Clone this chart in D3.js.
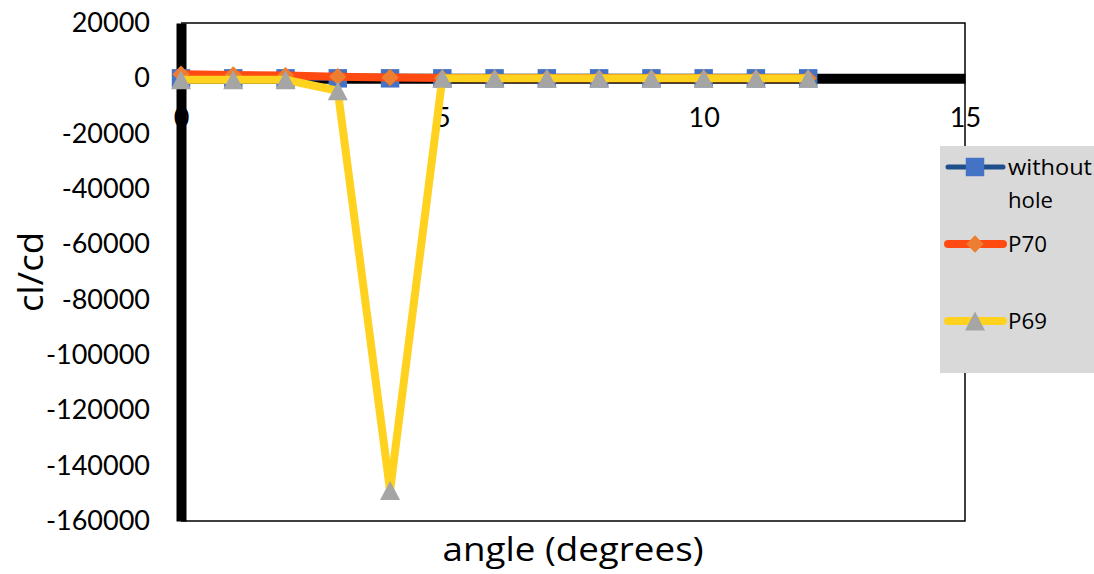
<!DOCTYPE html>
<html>
<head>
<meta charset="utf-8">
<script src="https://cdn.jsdelivr.net/npm/d3@7"></script>
<style>
  body { margin: 0; background: #fff; }
  svg { display: block; }
</style>
</head>
<body>
<div id="chart"></div>
<script>
// angles (degrees)
const angles = [0, 1, 2, 3, 4, 5, 6, 7, 8, 9, 10, 11, 12];
const withoutHole = [0, 0, 0, 0, 0, 0, 0, 0, 0, 0, 0, 0, 0];
const p70 = [1500, 1200, 1000, 600, 300, 100, 0, 0, 0, 0, 0, 0, 0];
const p69 = [-500, -500, -500, -4500, -149000, 0, 0, 0, 0, 0, 0, 0, 0];
const xTicks = [0, 5, 10, 15];
const yTicks = [20000, 0, -20000, -40000, -60000, -80000, -100000, -120000, -140000, -160000];
const seriesNames = ["without hole", "P70", "P69"];

const width = 1094, height = 574;
const margin = { top: 23, right: 129, bottom: 53, left: 181 };

const svg = d3.select("#chart").append("svg")
    .attr("width", width)
    .attr("height", height);

const x = d3.scaleLinear().domain([0, 15]).range([margin.left, width - margin.right]);
const y = d3.scaleLinear().domain([-160000, 20000]).range([height - margin.bottom, margin.top]);

const tickFont = "Lato, 'Open Sans', sans-serif";
const titleFont = "'Open Sans', 'Noto Sans', sans-serif";

// frame (thin top / right / bottom)
svg.append("path")
    .attr("d", `M${x(0)},${y(20000)} H${x(15)} V${y(-160000)} H${x(0)}`)
    .attr("fill", "none")
    .attr("stroke", "#000")
    .attr("stroke-width", 1.5);

// y axis (thick)
const yAxis = svg.append("g")
    .attr("transform", `translate(${x(0)},0)`)
    .call(d3.axisLeft(y).tickValues(yTicks).tickSize(0).tickPadding(31).tickFormat(d => String(d)));
yAxis.select(".domain").attr("stroke", "#000").attr("stroke-width", 10);
yAxis.selectAll("text")
    .attr("font-family", tickFont)
    .attr("font-size", 27)
    .attr("fill", "#000");

// x axis at y = 0 (thick)
const xAxis = svg.append("g")
    .attr("transform", `translate(0,${y(0)})`)
    .call(d3.axisBottom(x).tickValues(xTicks).tickSize(0).tickPadding(30));
xAxis.select(".domain").attr("stroke", "#000").attr("stroke-width", 10);
xAxis.selectAll("text")
    .attr("font-family", tickFont)
    .attr("font-size", 27)
    .attr("fill", "#000");

// axis titles
svg.append("text")
    .attr("x", (x(0) + x(15)) / 2)
    .attr("y", 561)
    .attr("text-anchor", "middle")
    .attr("font-family", titleFont)
    .attr("font-size", 32)
    .attr("textLength", 261)
    .attr("lengthAdjust", "spacingAndGlyphs")
    .text("angle (degrees)");

svg.append("text")
    .attr("transform", `translate(43,${(y(20000) + y(-160000)) / 2}) rotate(-90)`)
    .attr("text-anchor", "middle")
    .attr("font-family", titleFont)
    .attr("font-size", 34)
    .attr("textLength", 80)
    .attr("lengthAdjust", "spacingAndGlyphs")
    .text("cl/cd");

// markers centred on their bounding box, like the spreadsheet ones
const diamond = {
    draw(ctx, size) {
        const r = Math.sqrt(size / 2);
        ctx.moveTo(0, -r);
        ctx.lineTo(r, 0);
        ctx.lineTo(0, r);
        ctx.lineTo(-r, 0);
        ctx.closePath();
    }
};
const triangle = {
    draw(ctx, size) {
        const w = Math.sqrt(size * 2) / 2, h = w * 0.95;
        ctx.moveTo(0, -h);
        ctx.lineTo(w, h);
        ctx.lineTo(-w, h);
        ctx.closePath();
    }
};

const series = [
    { name: seriesNames[0], values: withoutHole, line: "#1f4e8c", lw: 5, marker: d3.symbolSquare, size: 340, fill: "#4472c4" },
    { name: seriesNames[1], values: p70, line: "#ff4a12", lw: 8, marker: diamond, size: 150, fill: "#ed7d31" },
    { name: seriesNames[2], values: p69, line: "#ffd21f", lw: 8, marker: triangle, size: 200, fill: "#a5a5a5" }
];

const line = d3.line()
    .x((d, i) => x(angles[i]))
    .y(d => y(d));

series.forEach(s => {
    svg.append("path")
        .datum(s.values)
        .attr("fill", "none")
        .attr("stroke", s.line)
        .attr("stroke-width", s.lw)
        .attr("stroke-linejoin", "round")
        .attr("d", line);

    svg.append("g").selectAll("path")
        .data(s.values)
        .enter()
        .append("path")
        .attr("transform", (d, i) => `translate(${x(angles[i])},${y(d)})`)
        .attr("d", d3.symbol().type(s.marker).size(s.size))
        .attr("fill", s.fill);
});

// legend
const legend = svg.append("g").attr("transform", "translate(940,146)");
legend.append("rect")
    .attr("width", 154)
    .attr("height", 227)
    .attr("fill", "#d9d9d9");

const legendRows = [21, 98, 175];
series.forEach((s, i) => {
    const ly = legendRows[i];
    legend.append("line")
        .attr("x1", 8).attr("x2", 63)
        .attr("y1", ly).attr("y2", ly)
        .attr("stroke", s.line)
        .attr("stroke-width", s.lw)
        .attr("stroke-linecap", "round");
    legend.append("path")
        .attr("transform", `translate(35,${ly})`)
        .attr("d", d3.symbol().type(s.marker).size(s.size))
        .attr("fill", s.fill);
});

const legendText = legend.append("g")
    .attr("font-family", titleFont)
    .attr("font-size", 21)
    .attr("fill", "#000");
const legendLabels = [
    { text: "without", y: 29, len: 84 },
    { text: "hole", y: 62, len: 45 },
    { text: seriesNames[1], y: 106, len: 39 },
    { text: seriesNames[2], y: 183, len: 39 }
];
legendText.selectAll("text")
    .data(legendLabels)
    .enter()
    .append("text")
    .attr("x", 68)
    .attr("y", d => d.y)
    .attr("textLength", d => d.len)
    .attr("lengthAdjust", "spacingAndGlyphs")
    .text(d => d.text);
</script>
</body>
</html>
